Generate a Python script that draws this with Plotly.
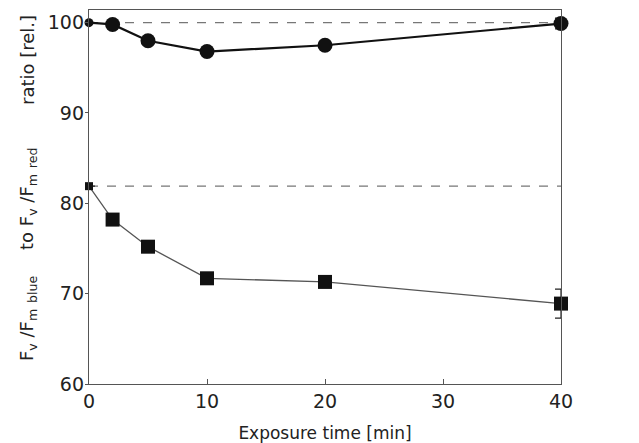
import plotly.graph_objects as go

time_min = [0, 2, 5, 10, 20, 40]
ratio_circles = [100.0, 99.8, 98.0, 96.8, 97.5, 99.9]
circle_err = [0, 0, 0, 0, 0.3, 0.6]
ratio_squares = [81.9, 78.2, 75.2, 71.7, 71.3, 68.9]
square_err = [0, 0, 0, 0, 0.6, 1.6]
ref_levels = [100.0, 81.9]
x_ticks = [0, 10, 20, 30, 40]
y_ticks = [60, 70, 80, 90, 100]

FONT = "DejaVu Sans, Verdana, sans-serif"

# page body has an 8px margin, so the figure is drawn 8px smaller
W, H = 631, 435
L, R, T, B = 81, 78, 2, 59

fig = go.Figure()

for lvl in ref_levels:
    fig.add_trace(go.Scatter(
        x=[time_min[0], time_min[-1]], y=[lvl, lvl], mode="lines",
        line=dict(color="#777777", width=1.2, dash="dash"),
        showlegend=False, hoverinfo="skip"))

fig.add_trace(go.Scatter(
    x=time_min, y=ratio_squares, mode="lines+markers",
    line=dict(color="#555555", width=1.3),
    marker=dict(symbol="square", size=[8, 14, 14, 14, 14, 14], color="#111111",
                opacity=1, line=dict(width=0)),
    error_y=dict(type="data", array=square_err, color="#222222", thickness=1.2, width=6),
    showlegend=False, cliponaxis=False))

fig.add_trace(go.Scatter(
    x=time_min, y=ratio_circles, mode="lines+markers",
    line=dict(color="#111111", width=2.2),
    marker=dict(symbol="circle", size=[9, 15, 15, 15, 15, 15], color="#111111",
                opacity=1, line=dict(width=0)),
    error_y=dict(type="data", array=circle_err, color="#222222", thickness=1.2, width=6),
    showlegend=False, cliponaxis=False))

fig.update_layout(
    width=W, height=H,
    margin=dict(l=L, r=R, t=T, b=B),
    paper_bgcolor="white", plot_bgcolor="white",
    font=dict(family=FONT, size=18, color="#222222"),
)

fig.update_xaxes(
    range=[0, 40], tickvals=x_ticks, ticks="inside", ticklen=5, tickcolor="#555555",
    showline=True, linecolor="#555555", linewidth=1.3, mirror=True,
    showgrid=False, zeroline=False,
    title=dict(text="Exposure time [min]", font=dict(size=17), standoff=17),
    tickfont=dict(size=19), ticklabelstandoff=0,
)
fig.update_yaxes(
    range=[60, 101.4], tickvals=y_ticks, ticks="outside", ticklen=3, tickcolor="#555555",
    showline=True, linecolor="#555555", linewidth=1.3, mirror=True,
    showgrid=False, zeroline=False,
    tickfont=dict(size=19), ticklabelstandoff=-3,
)

labels = [
    ("ratio [rel.]", 52),
    ("to F<sub>v</sub> /F<sub>m</sub> <sub>red</sub>", 191),
    ("F<sub>v</sub> /F<sub>m</sub> <sub>blue</sub>", 311),
]
plot_h = H - T - B
for txt, ypx in labels:
    fig.add_annotation(
        text=txt, xref="paper", yref="paper",
        x=(20 - L) / (W - L - R), y=1 - (ypx - T) / plot_h,
        xanchor="center", yanchor="middle", textangle=-90,
        showarrow=False, font=dict(size=18, family=FONT, color="#222222"))

fig.write_html("out.html")
